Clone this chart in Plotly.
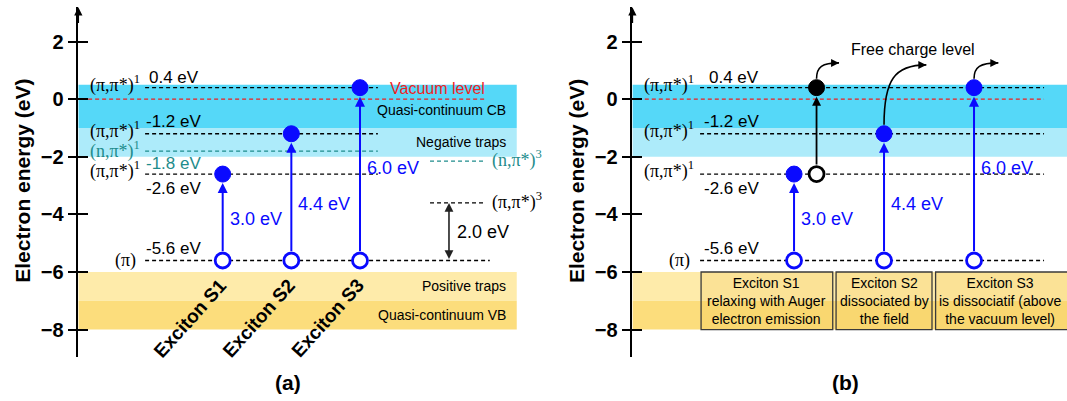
import plotly.graph_objects as go

# ---------------- data ----------------
band_names = ["Quasi-continuum CB", "Negative traps", "Positive traps", "Quasi-continuum VB"]
band_top = [0.5, -1.0, -6.0, -7.0]
band_bottom = [-1.0, -2.0, -7.0, -8.0]

pipi_singlets = [0.4, -1.2, -2.6]   # (pi,pi*)1 levels, eV
npi_singlet = -1.8                  # (n,pi*)1
pi_ground = -5.6                    # (pi)
npi_triplet = -2.15                 # (n,pi*)3
pipi_triplet = -3.6                 # (pi,pi*)3
vacuum_level = 0.0
triplet_gap = 2.0

excitons = ["Exciton S1", "Exciton S2", "Exciton S3"]
exciton_x = [1, 2, 3]
exciton_energy = [3.0, 4.4, 6.0]
relaxed_x = 1.25                    # S1 after Auger relaxation (panel b)

box_texts = [
    "Exciton S1<br>relaxing with Auger<br>electron emission",
    "Exciton S2<br>dissociated by<br>the field",
    "Exciton S3<br>is dissociatif (above<br>the vacuum level)",
]
y_ticks = [-8, -6, -4, -2, 0, 2]

# ---------------- styling ----------------
SANS = "Liberation Sans, Arial, sans-serif"
SERIF = "Liberation Serif, Times New Roman, serif"
BLUE = "#0A0AFF"
TEAL = "#1E8C8C"
RED = "#F01E1E"
band_colors = ["#55D8F8", "#ADEBFA", "#FEEBAA", "#FCDD7C"]
DASH = "4px,3px"
LV_SIZE = 17      # energy value labels
ST_SIZE = 18      # state labels (serif)

W, H = 1067, 401
y_range = [-8.94, 3.19]
y_domain = [1 - 356.7 / H, 1 - 7.3 / H]
xl_range = [-1.103, 5.913]
xr_range = [-0.796, 4.033]

fig = go.Figure()
shapes = []
ann = []


def hline(xa, ya, x0, x1, y, color="black", width=1.3):
    fig.add_trace(go.Scatter(
        x=[x0, x1], y=[y, y], mode="lines", xaxis=xa, yaxis=ya,
        line=dict(color=color, width=width, dash=DASH),
        hoverinfo="skip", showlegend=False))


def dots(xa, ya, xs, ys, fill, edge, size=16, lw=1):
    fig.add_trace(go.Scatter(
        x=xs, y=ys, mode="markers", xaxis=xa, yaxis=ya, cliponaxis=False,
        marker=dict(size=size, color=fill, line=dict(color=edge, width=lw)),
        hoverinfo="skip", showlegend=False))


def label(xa, ya, x, y, text, size=LV_SIZE, color="black", font=SANS,
          xanchor="left", yanchor="middle", yshift=0, xshift=0, angle=0):
    ann.append(dict(x=x, y=y, xref=xa, yref=ya, text=text, showarrow=False,
                    font=dict(family=font, size=size, color=color),
                    xanchor=xanchor, yanchor=yanchor, yshift=yshift,
                    xshift=xshift, textangle=angle))


def arrow(xa, ya, x0, y0, x1, y1, color, width=2, standoff=0,
          startstandoff=0, side="end", size=1.0):
    ann.append(dict(x=x1, y=y1, ax=x0, ay=y0, xref=xa, yref=ya,
                    axref=xa, ayref=ya, text="", showarrow=True,
                    arrowhead=2, arrowsize=size, arrowwidth=width,
                    arrowcolor=color, standoff=standoff,
                    startstandoff=startstandoff, arrowside=side,
                    startarrowhead=2, startarrowsize=size))


# ---------------- bands ----------------
panels = [("x", "y", xl_range[0], 5.283), ("x2", "y2", xr_range[0], 4.2)]
for xa, ya, bx0, bx1 in panels:
    for top, bot, col in zip(band_top, band_bottom, band_colors):
        shapes.append(dict(type="rect", xref=xa, yref=ya, x0=bx0, x1=bx1,
                           y0=bot, y1=top, fillcolor=col, line_width=0,
                           layer="below"))

# band names (panel a)
for name, top, bot in zip(band_names, band_top, band_bottom):
    ymid = (top + bot) / 2 if name != "Quasi-continuum CB" else -0.37
    label("x", "y", 5.156, ymid, name, size=14, xanchor="right")

# ---------------- panel (a) ----------------
lv_x0, lv_x1 = -0.13, 3.26
hline("x", "y", -0.96, 4.82, vacuum_level, RED, 1.2)
for lv in pipi_singlets:
    hline("x", "y", lv_x0, lv_x1, lv)
hline("x", "y", lv_x0, lv_x1, npi_singlet, TEAL)
hline("x", "y", lv_x0, 4.89, pi_ground)
hline("x", "y", 4.02, 4.81, npi_triplet, TEAL)
hline("x", "y", 4.02, 4.81, pipi_triplet)

label("x", "y", 4.85, vacuum_level, "Vacuum level", size=16, color=RED,
      xanchor="right", yanchor="bottom", yshift=0)

pp1 = "(\u03c0,\u03c0*)<sup>1</sup>"
np1 = "(n,\u03c0*)<sup>1</sup>"
for lv in pipi_singlets:
    label("x", "y", -0.17, lv, pp1, size=ST_SIZE, font=SERIF,
          xanchor="right", yshift=4)
label("x", "y", -0.17, npi_singlet, np1, size=ST_SIZE, font=SERIF,
      color=TEAL, xanchor="right", yshift=1)
label("x", "y", -0.23, pi_ground, "(\u03c0)", size=ST_SIZE, font=SERIF,
      xanchor="right")
label("x", "y", 4.9, npi_triplet, "(n,\u03c0*)<sup>3</sup>", size=ST_SIZE,
      font=SERIF, color=TEAL, yshift=2)
label("x", "y", 4.9, pipi_triplet, "(\u03c0,\u03c0*)<sup>3</sup>",
      size=ST_SIZE, font=SERIF, yshift=2)


def ev_labels(xa, ya, x):
    label(xa, ya, x + 0.05, pipi_singlets[0], f"{pipi_singlets[0]:.1f} eV",
          yanchor="bottom", yshift=-1)
    label(xa, ya, x, pipi_singlets[1], f"{pipi_singlets[1]:.1f} eV",
          yanchor="bottom", yshift=1)
    label(xa, ya, x, pipi_singlets[2], f"{pipi_singlets[2]:.1f} eV",
          yanchor="top", yshift=-3)
    label(xa, ya, x, pi_ground, f"{pi_ground:.1f} eV", yanchor="bottom",
          yshift=0)


ev_labels("x", "y", -0.15)
label("x", "y", -0.15, npi_singlet, f"{npi_singlet:.1f} eV", color=TEAL,
      yanchor="top", yshift=-1)

# singlet - triplet gap
arrow("x", "y", 4.296, pi_ground, 4.296, pi_ground + triplet_gap, "#222222",
      width=1.6, side="end+start", size=1.1)
label("x", "y", 4.383, pi_ground + triplet_gap / 2, f"{triplet_gap:.1f} eV",
      size=18)

ev_label_y = [-4.15, -3.65, -2.4]
top_levels = [pi_ground + e for e in exciton_energy]
for xa, ya in (("x", "y"), ("x2", "y2")):
    for ex, e, top, ly in zip(exciton_x, exciton_energy, top_levels, ev_label_y):
        arrow(xa, ya, ex, pi_ground, ex, top, BLUE, width=2, standoff=9,
              startstandoff=8)
        label(xa, ya, ex, ly, f"{e:.1f} eV", size=18, color=BLUE, xshift=5)

dots("x", "y", exciton_x, top_levels, BLUE, BLUE)
dots("x", "y", exciton_x, [pi_ground] * 3, "white", BLUE, size=15, lw=2.8)

for name, ex in zip(excitons, exciton_x):
    label("x", "y", ex - 0.48, -7.6, f"<b>{name}</b>", size=19,
          xanchor="center", angle=-48)

# ---------------- panel (b) ----------------
rv_x0, rv_x1 = -0.044, 3.778
hline("x2", "y2", xr_range[0] + 0.06, rv_x1, vacuum_level, RED, 1.2)
for lv in pipi_singlets:
    hline("x2", "y2", rv_x0, rv_x1, lv)
hline("x2", "y2", rv_x0, rv_x1, pi_ground)

for lv in pipi_singlets:
    label("x2", "y2", -0.09, lv, pp1, size=ST_SIZE, font=SERIF,
          xanchor="right", yshift=4)
label("x2", "y2", -0.13, pi_ground, "(\u03c0)", size=ST_SIZE, font=SERIF,
      xanchor="right")
ev_labels("x2", "y2", -0.02)

# Auger relaxation of S1: hole level -> vacuum
arrow("x2", "y2", relaxed_x, pipi_singlets[2], relaxed_x, pipi_singlets[0],
      "black", width=1.8, standoff=9, startstandoff=8)
dots("x2", "y2", exciton_x, top_levels, BLUE, BLUE)
dots("x2", "y2", [relaxed_x], [pipi_singlets[0]], "black", "black")
dots("x2", "y2", [relaxed_x], [pipi_singlets[2]], "white", "black", size=15,
     lw=2.8)
dots("x2", "y2", exciton_x, [pi_ground] * 3, "white", BLUE, size=15, lw=2.8)

# escape paths to the free charge level (offsets from the emitting dot)
escapes = [(relaxed_x, pipi_singlets[0], 0.25, 0.55),
           (exciton_x[1], pipi_singlets[1], 0.47, 2.08),
           (exciton_x[2], pipi_singlets[0], 0.27, 0.55)]
for x0, lv, dx, dy in escapes:
    ys = lv + 0.31
    xe, ye = x0 + dx, ys + dy
    shapes.append(dict(
        type="path", xref="x2", yref="y2", layer="above",
        path=(f"M {x0},{ys} C {x0},{ys + dy * 0.75} {x0 + dx * 0.25},{ye} "
              f"{xe},{ye}"),
        line=dict(color="black", width=1.6)))
    arrow("x2", "y2", xe - 0.06, ye, xe, ye, "black", width=1.6, size=1.0)

label("x2", "y2", 2.32, 1.71, "Free charge level", size=16, xanchor="center")

# description boxes (the last one runs past the right edge)
box_x = [(-0.033, 1.43), (1.467, 2.533), (2.573, 4.2)]
box_text_x = [0.699, 2.0, 3.294]
for (bx0, bx1), tx, txt in zip(box_x, box_text_x, box_texts):
    shapes.append(dict(type="rect", xref="x2", yref="y2", x0=bx0, x1=bx1,
                       y0=band_bottom[-1], y1=band_top[2],
                       fillcolor="rgba(240,190,60,0.18)",
                       line=dict(color="#3A3A3A", width=1.3), layer="above"))
    label("x2", "y2", tx, (band_top[2] + band_bottom[-1]) / 2,
          txt, size=14, xanchor="center")

# ---------------- axes ----------------
for xa, ya in (("x", "y"), ("x2", "y2")):
    # arrow tip at the top of each energy axis
    xr = xl_range if xa == "x" else xr_range
    arrow(xa, ya, xr[0], y_range[1] - 0.6, xr[0], y_range[1], "black",
          width=1.5, size=1.1)

for px in (0.0215, 0.541):
    ann.append(dict(x=px, y=0.549, xref="paper", yref="paper",
                    text="<b>Electron energy (eV)</b>", showarrow=False,
                    textangle=-90, font=dict(family=SANS, size=21, color="black"),
                    xanchor="center", yanchor="middle"))
for px, t in ((0.27, "(a)"), (0.792, "(b)")):
    ann.append(dict(x=px, y=0.047, xref="paper", yref="paper",
                    text=f"<b>{t}</b>", showarrow=False,
                    font=dict(family=SANS, size=21, color="black"),
                    xanchor="center", yanchor="middle"))

# invisible traces that carry the inner-tick overlay axes
for xa, ya in (("x", "y3"), ("x2", "y4")):
    fig.add_trace(go.Scatter(x=[None], y=[None], xaxis=xa, yaxis=ya,
                             hoverinfo="skip", showlegend=False))

xcommon = dict(visible=False, fixedrange=True)
ycommon = dict(range=y_range, domain=y_domain, tickvals=y_ticks,
               showgrid=False, zeroline=False, fixedrange=True)
outer = dict(showline=True, linecolor="black", linewidth=1.5, ticks="outside",
             ticklen=9, tickwidth=1.5, tickcolor="black",
             tickfont=dict(family=SANS, size=20, color="black", weight="bold"))
inner = dict(showline=False, ticks="inside", ticklen=10, tickwidth=1.5,
             tickcolor="black", showticklabels=False)

fig.update_layout(
    width=W, height=H, margin=dict(l=0, r=0, t=0, b=0),
    paper_bgcolor="white", plot_bgcolor="rgba(0,0,0,0)",
    showlegend=False,
    xaxis=dict(domain=[78.3 / W, 560 / W], range=xl_range, **xcommon),
    xaxis2=dict(domain=[632.4 / W, 1.0], range=xr_range, **xcommon),
    yaxis=dict(anchor="x", **ycommon, **outer),
    yaxis2=dict(anchor="x2", **ycommon, **outer),
    yaxis3=dict(anchor="x", overlaying="y", **ycommon, **inner),
    yaxis4=dict(anchor="x2", overlaying="y2", **ycommon, **inner),
    shapes=shapes, annotations=ann,
)

fig.write_html("out.html")
